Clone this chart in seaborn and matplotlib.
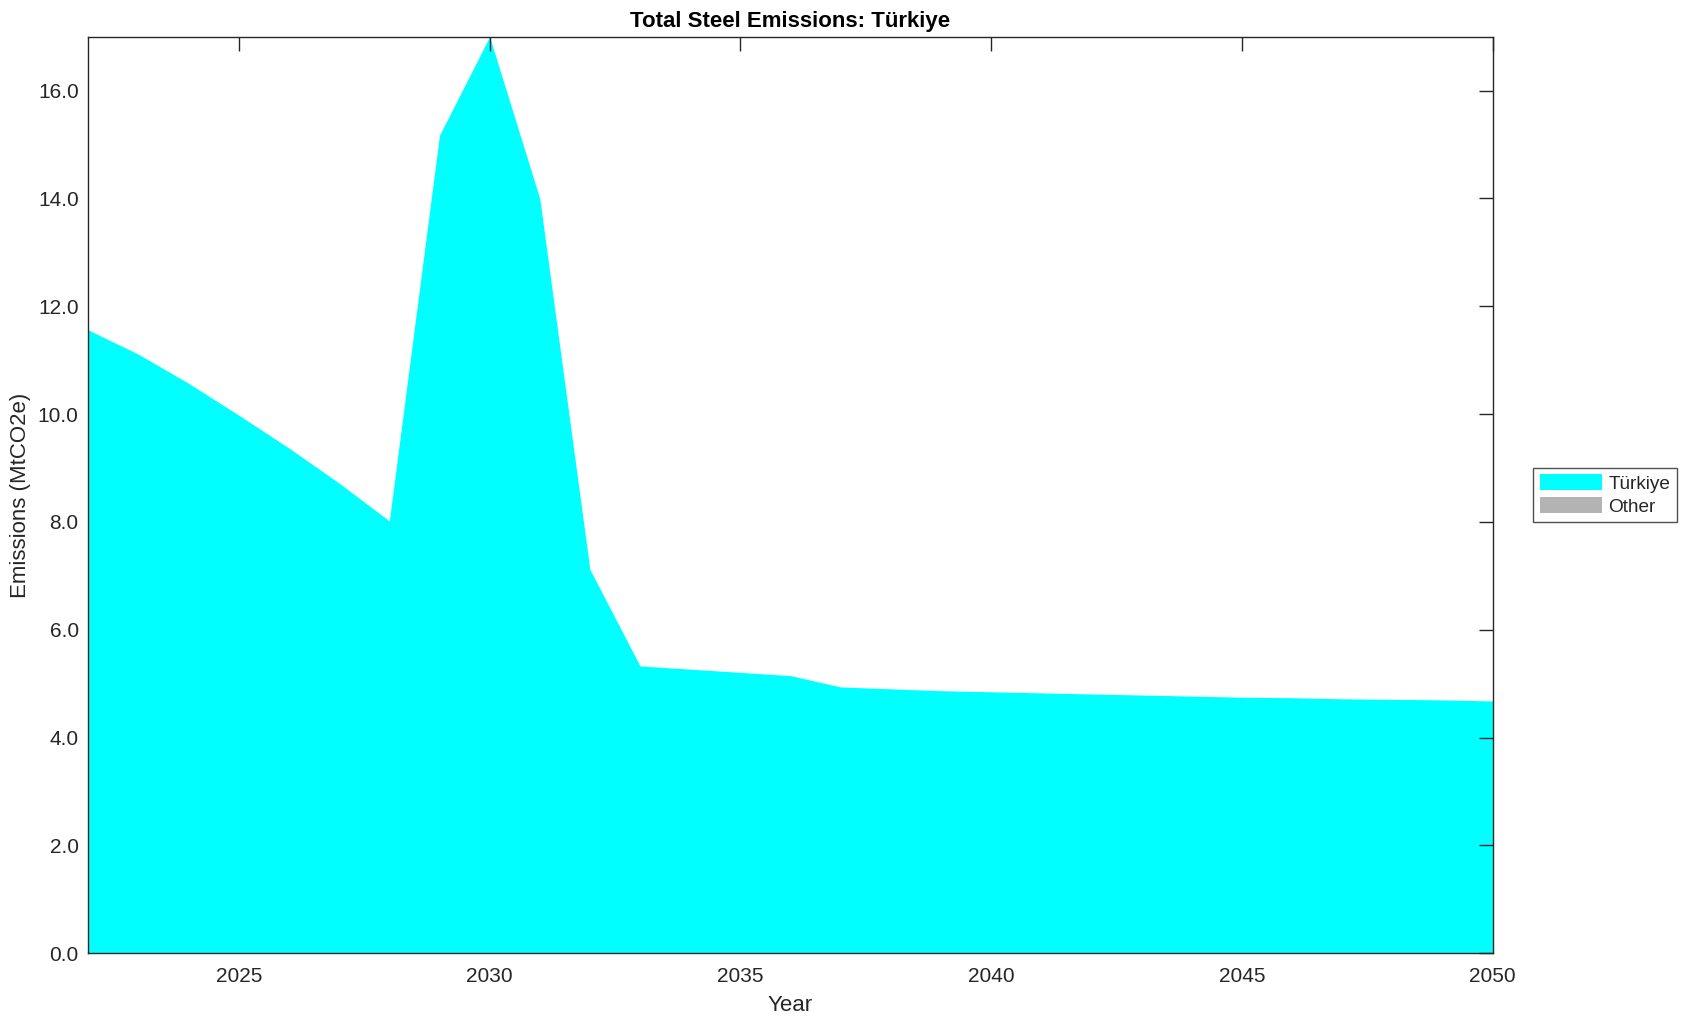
import numpy as np
import pandas as pd
import matplotlib
matplotlib.use("Agg")
import matplotlib.pyplot as plt
import seaborn as sns

# Data (MtCO2e)
years = list(range(2022, 2051))
turkiye = [11.56, 11.11, 10.57, 9.98, 9.37, 8.72, 8.02, 15.17, 17.0, 14.0,
           7.12, 5.33, 5.27, 5.21, 5.15, 4.94, 4.905, 4.87, 4.85, 4.83,
           4.81, 4.79, 4.77, 4.75, 4.74, 4.72, 4.71, 4.70, 4.68]
other = [0.0] * len(years)
series_names = ["Türkiye", "Other"]
series_colors = ["#00ffff", "#b3b3b3"]

df = pd.DataFrame({"Year": years, "Türkiye": turkiye, "Other": other})

sns.set_theme(style="white")
plt.rcParams['font.family'] = ['Liberation Sans', 'DejaVu Sans']
plt.rcParams['axes.edgecolor'] = '#262626'
plt.rcParams['axes.linewidth'] = 1.0

fig = plt.figure(figsize=(16.91, 10.21), dpi=100)
ax = fig.add_axes([88.4 / 1691, 1 - 953.3 / 1021, (1492.6 - 88.4) / 1691, (953.3 - 36.7) / 1021])

ax.stackplot(df["Year"], df["Türkiye"], df["Other"],
             labels=series_names, colors=series_colors, linewidth=0)
ax.set_axisbelow(False)

ax.set_xlim(2022, 2050)
ax.set_ylim(0, 17)
ax.set_xticks([2025, 2030, 2035, 2040, 2045, 2050])
ax.set_yticks(np.arange(0, 17, 2))
ax.yaxis.set_major_formatter(matplotlib.ticker.FormatStrFormatter('%.1f'))
ax.tick_params(direction='in', length=10, width=1, top=True, right=True,
               labelsize=15, colors='#262626', labelcolor='#262626', pad=7)
ax.tick_params(axis='x', pad=10)

ax.set_title('Total Steel Emissions: Türkiye', fontsize=16, fontweight='bold', pad=7,
             color='black')
ax.set_xlabel('Year', fontsize=16, color='#262626', labelpad=6)
ax.set_ylabel('Emissions (MtCO2e)', fontsize=16, color='#262626', labelpad=5)

leg = ax.legend(loc='center left', bbox_to_anchor=(1.0288, 0.5), fontsize=13.7,
                frameon=True, fancybox=False, edgecolor='#262626',
                handlelength=3.3, handleheight=0.88, borderpad=0.35,
                labelspacing=0.25, handletextpad=0.3, borderaxespad=0)
leg.get_frame().set_linewidth(1.0)

fig.savefig('out.png', dpi=100)
